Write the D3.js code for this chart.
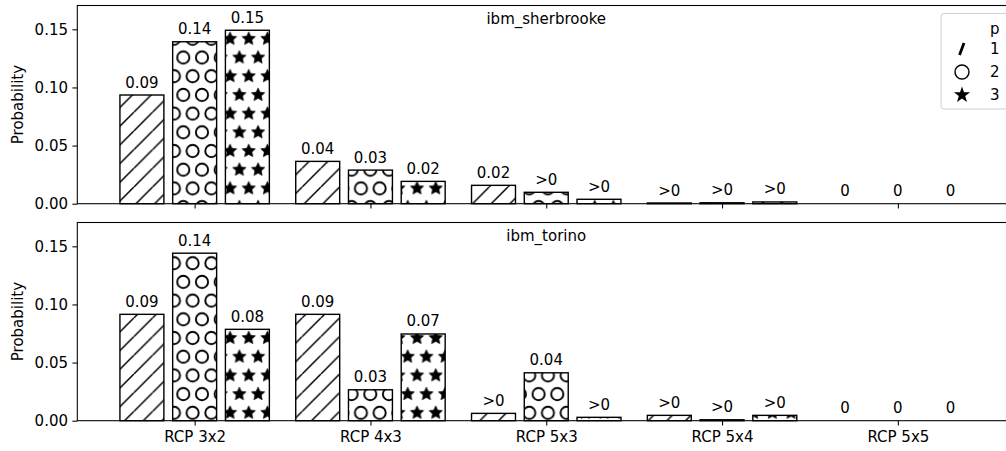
<!DOCTYPE html>
<meta charset="utf-8">
<style>
body { margin: 0; background: #fff; }
svg  { font-family: "DejaVu Sans", sans-serif; }
</style>
<body>
<svg width="1006" height="451"></svg>
<script src="https://d3js.org/d3.v7.min.js"></script>
<script>

// ---- data ----
var categories = ["RCP 3x2", "RCP 4x3", "RCP 5x3", "RCP 5x4", "RCP 5x5"];
var pLabels    = ["1", "2", "3"];
var backends   = ["ibm_sherbrooke", "ibm_torino"];

var sherbrooke_p1 = [0.0935, 0.0364, 0.0158, 0.0006, 0];
var sherbrooke_p2 = [0.1393, 0.0289, 0.0098, 0.0008, 0];
var sherbrooke_p3 = [0.1492, 0.0192, 0.0038, 0.0015, 0];

var torino_p1 = [0.0915, 0.0915, 0.0063, 0.0046, 0];
var torino_p2 = [0.1441, 0.0266, 0.0412, 0.0008, 0];
var torino_p3 = [0.0786, 0.0746, 0.0029, 0.0046, 0];

var yTicks = [0, 0.05, 0.10, 0.15];

var panelSeries = [
  [sherbrooke_p1, sherbrooke_p2, sherbrooke_p3],
  [torino_p1, torino_p2, torino_p3]
];

// ---- layout ----
var svg = d3.select("svg");
var left = 77.3, right = 1015.2;
var panels = [ {top: 5.5, bottom: 203.7}, {top: 222.5, bottom: 420.7} ];
var C = 18.7;   // hatch cell
var fs = "15px";

var x = d3.scaleLinear().domain([-0.6675, 4.6675]).range([left, right]);

function valueLabel(v) {
  if (v === 0) return "0";
  if (v < 0.01) return ">0";
  return v.toFixed(2);
}

// hatch patterns
var defs = svg.append("defs");

var h0 = defs.append("pattern").attr("id", "hatch0")
  .attr("patternUnits", "userSpaceOnUse")
  .attr("width", C).attr("height", C).attr("x", 3).attr("y", 0);
h0.append("rect").attr("width", C).attr("height", C).attr("fill", "#fff");
h0.append("path")
  .attr("d", [-1, 0, 1].map(function(k) {
    return "M" + (k * C) + "," + C + "L" + (k * C + C) + ",0";
  }).join(""))
  .attr("stroke", "#000").attr("stroke-width", 1.5).attr("fill", "none");

var gridPts = [[0, 0], [C, 0], [0, 2 * C], [C, 2 * C], [C / 2, C]];

var h1 = defs.append("pattern").attr("id", "hatch1")
  .attr("patternUnits", "userSpaceOnUse")
  .attr("width", C).attr("height", 2 * C).attr("x", 183.3).attr("y", 57.5);
h1.append("rect").attr("width", C).attr("height", 2 * C).attr("fill", "#fff");
h1.selectAll("circle").data(gridPts).enter().append("circle")
  .attr("cx", function(d) { return d[0]; })
  .attr("cy", function(d) { return d[1]; })
  .attr("r", 6.1)
  .attr("fill", "none").attr("stroke", "#000").attr("stroke-width", 1.9);

function starPath(r, inner) {
  var pts = [];
  for (var i = 0; i < 10; i++) {
    var a = -Math.PI / 2 + i * Math.PI / 5;
    var rr = (i % 2 === 0) ? r : r * inner;
    pts.push([rr * Math.cos(a), rr * Math.sin(a)]);
  }
  return "M" + pts.map(function(p) { return p[0].toFixed(2) + "," + p[1].toFixed(2); }).join("L") + "Z";
}

var h2 = defs.append("pattern").attr("id", "hatch2")
  .attr("patternUnits", "userSpaceOnUse")
  .attr("width", C).attr("height", 2 * C).attr("x", 183.3).attr("y", 57.5);
h2.append("rect").attr("width", C).attr("height", 2 * C).attr("fill", "#fff");
h2.selectAll("path").data(gridPts).enter().append("path")
  .attr("d", starPath(7, 0.48))
  .attr("transform", function(d) { return "translate(" + d[0] + "," + d[1] + ")"; })
  .attr("fill", "#000").attr("stroke", "#000").attr("stroke-width", 0.6);

// ---- panels ----
panels.forEach(function(pn, pi) {
  var y = d3.scaleLinear().domain([0, 0.1705]).range([pn.bottom, pn.top]);
  var g = svg.append("g");

  // bars
  panelSeries[pi].forEach(function(vals, j) {
    g.selectAll(null).data(vals).enter().append("rect")
      .attr("x", function(d, i) { return x(i + (j - 1) * 0.3 - 0.125); })
      .attr("width", x(0.25) - x(0))
      .attr("y", function(d) { return y(d); })
      .attr("height", function(d) { return y(0) - y(d); })
      .attr("fill", "url(#hatch" + j + ")")
      .attr("stroke", "#000").attr("stroke-width", 1.4);

    g.selectAll(null).data(vals).enter().append("text")
      .attr("x", function(d, i) { return x(i + (j - 1) * 0.3); })
      .attr("y", function(d) { return y(d) - 7.5; })
      .attr("text-anchor", "middle")
      .attr("font-size", fs)
      .text(valueLabel);
  });

  // y axis
  var ya = g.append("g").attr("transform", "translate(" + left + ",0)")
    .call(d3.axisLeft(y).tickValues(yTicks).tickFormat(d3.format(".2f"))
      .tickSize(4.9).tickPadding(4.4));
  ya.select(".domain").remove();
  ya.selectAll("text").attr("font-size", fs).attr("font-family", "DejaVu Sans").attr("fill", "#000");
  ya.selectAll("line").attr("stroke", "#000").attr("stroke-width", 1.07);

  // x axis
  var xa = g.append("g").attr("transform", "translate(0," + pn.bottom + ")")
    .call(d3.axisBottom(x).tickValues(d3.range(categories.length))
      .tickFormat(function(i) { return pi === 1 ? categories[i] : ""; })
      .tickSize(4.9).tickPadding(5.4));
  xa.select(".domain").remove();
  xa.selectAll("text").attr("font-size", fs).attr("font-family", "DejaVu Sans").attr("fill", "#000");
  xa.selectAll("line").attr("stroke", "#000").attr("stroke-width", 1.07);

  // spines
  g.append("rect")
    .attr("x", left).attr("y", pn.top)
    .attr("width", right - left).attr("height", pn.bottom - pn.top)
    .attr("fill", "none").attr("stroke", "#000").attr("stroke-width", 1.07);

  // title inside axes
  g.append("text")
    .attr("x", (left + right) / 2).attr("y", pn.top + 18.5)
    .attr("text-anchor", "middle").attr("font-size", fs)
    .text(backends[pi]);

  // y label
  g.append("text")
    .attr("transform", "translate(23," + ((pn.top + pn.bottom) / 2) + ") rotate(-90)")
    .attr("text-anchor", "middle").attr("font-size", fs)
    .text("Probability");
});

// ---- legend ----
var lg = svg.append("g");
lg.append("rect")
  .attr("x", 941).attr("y", 13.5).attr("width", 90).attr("height", 95.5)
  .attr("rx", 3).attr("fill", "#fff").attr("fill-opacity", 0.8)
  .attr("stroke", "#d0d0d0").attr("stroke-width", 1);
lg.append("text").attr("x", 990).attr("y", 28.5).attr("dy", "0.35em")
  .attr("font-size", fs).text("p");

var rowY = [49, 72, 95];
lg.selectAll(".lab").data(pLabels).enter().append("text")
  .attr("class", "lab")
  .attr("x", 990).attr("y", function(d, i) { return rowY[i]; })
  .attr("dy", "0.35em").attr("font-size", fs)
  .text(function(d) { return d; });

lg.append("path").attr("d", "M959.5,55L964,43")
  .attr("stroke", "#000").attr("stroke-width", 2.8);
lg.append("circle").attr("cx", 962).attr("cy", rowY[1]).attr("r", 7)
  .attr("fill", "none").attr("stroke", "#000").attr("stroke-width", 1.4);
lg.append("path").attr("d", starPath(8.5, 0.4))
  .attr("transform", "translate(962," + rowY[2] + ")")
  .attr("fill", "#000");

</script>
</body>
